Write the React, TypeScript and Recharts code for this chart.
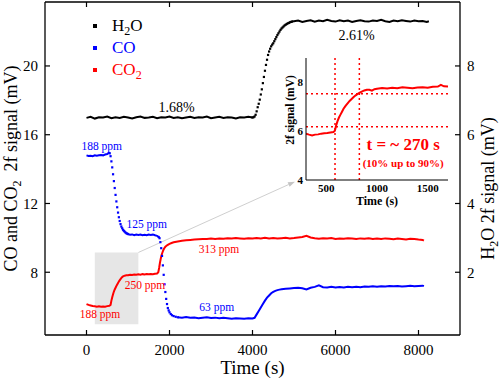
import React from 'react';
import {
  ComposedChart,
  LineChart,
  Line,
  XAxis,
  YAxis,
  ReferenceArea,
  ReferenceLine,
  ReferenceDot,
} from 'recharts';

const FONT = 'Liberation Serif, Tinos, DejaVu Serif, serif';
const BLACK = '#000000';
const BLUE = '#0000ff';
const RED = '#ff0000';

// ---------- main chart axes ----------
const xTicks = [0, 2000, 4000, 6000, 8000];
const leftTicks = [8, 12, 16, 20];
const rightTicks = [2, 4, 6, 8];
const xDomain: [number, number] = [-1000, 9000];
const leftDomain: [number, number] = [4.35, 23.72];
const rightDomain: [number, number] = [0.175, 9.86];

// ---------- H2O (right axis) [time s, mV] ----------
const h2oPoints: [number, number][] = [
  [0, 6.49], [100, 6.52], [200, 6.47], [300, 6.51], [400, 6.5], [500, 6.53], [600, 6.48], [700, 6.51],
  [800, 6.49], [900, 6.52], [1000, 6.5], [1100, 6.47], [1200, 6.51], [1300, 6.53], [1400, 6.49], [1500, 6.5],
  [1600, 6.52], [1700, 6.48], [1800, 6.51], [1900, 6.5], [2000, 6.53], [2100, 6.49], [2200, 6.51], [2300, 6.48],
  [2400, 6.5], [2500, 6.52], [2600, 6.49], [2700, 6.51], [2800, 6.5], [2900, 6.53], [3000, 6.48], [3100, 6.5],
  [3200, 6.52], [3300, 6.49], [3400, 6.51], [3500, 6.5], [3600, 6.47], [3700, 6.51], [3800, 6.5], [3900, 6.52],
  [4000, 6.5], [4025, 6.51], [4050, 6.53], [4075, 6.58], [4100, 6.68], [4125, 6.8], [4150, 6.9], [4175, 7.02],
  [4200, 7.17], [4225, 7.32], [4250, 7.5], [4275, 7.68], [4300, 7.86], [4325, 8.03], [4350, 8.18], [4375, 8.32],
  [4400, 8.42], [4425, 8.5], [4450, 8.57], [4475, 8.62], [4500, 8.66], [4525, 8.72], [4550, 8.78], [4575, 8.84],
  [4600, 8.9], [4625, 8.95], [4650, 9.0], [4675, 9.05], [4700, 9.09], [4725, 9.12], [4750, 9.15], [4775, 9.18],
  [4800, 9.2], [4825, 9.22], [4850, 9.24], [4875, 9.25], [4900, 9.27], [4925, 9.28], [4950, 9.29],
  [5000, 9.3], [5100, 9.32], [5200, 9.28], [5300, 9.31], [5400, 9.33], [5500, 9.29], [5600, 9.32], [5700, 9.3],
  [5800, 9.34], [5900, 9.31], [6000, 9.29], [6100, 9.33], [6200, 9.3], [6300, 9.32], [6400, 9.28], [6500, 9.31],
  [6600, 9.33], [6700, 9.3], [6800, 9.29], [6900, 9.32], [7000, 9.31], [7100, 9.34], [7200, 9.3], [7300, 9.28],
  [7400, 9.32], [7500, 9.3], [7600, 9.33], [7700, 9.31], [7800, 9.29], [7900, 9.32], [8000, 9.3], [8100, 9.31],
  [8200, 9.28], [8250, 9.3],
];
const h2oDotted: [number, number][] = [[4000, 4950]];

// ---------- CO (left axis) ----------
const coPoints: [number, number][] = [
  [0, 14.8], [50, 14.76], [100, 14.78], [150, 14.75], [200, 14.8], [250, 14.78], [300, 14.8], [350, 14.82],
  [400, 14.8], [450, 14.85], [500, 14.88], [540, 14.95], [560, 14.92],
  [580, 14.75], [600, 14.45], [620, 14.1], [640, 13.7], [660, 13.3], [680, 12.9], [700, 12.5], [720, 12.12],
  [740, 11.78], [760, 11.47], [780, 11.2], [800, 10.98], [820, 10.8], [840, 10.66], [860, 10.56], [880, 10.47],
  [900, 10.41], [920, 10.36], [940, 10.31], [960, 10.27], [980, 10.25], [1000, 10.22],
  [1050, 10.18], [1100, 10.2], [1150, 10.15], [1200, 10.19], [1250, 10.17], [1300, 10.2], [1350, 10.16],
  [1400, 10.18], [1450, 10.15], [1500, 10.19], [1550, 10.17], [1600, 10.2], [1650, 10.15], [1700, 10.12], [1740, 10.05],
  [1760, 9.98], [1780, 9.75], [1800, 9.4], [1820, 8.95], [1840, 8.4], [1860, 7.85], [1880, 7.3], [1900, 6.85],
  [1920, 6.45], [1940, 6.15], [1960, 5.92], [1980, 5.78], [2000, 5.67], [2030, 5.57], [2060, 5.5], [2100, 5.45],
  [2150, 5.41], [2200, 5.38],
  [2300, 5.36], [2400, 5.4], [2500, 5.35], [2600, 5.37], [2700, 5.33], [2800, 5.36], [2900, 5.38], [3000, 5.34],
  [3100, 5.36], [3200, 5.32], [3300, 5.35], [3400, 5.33], [3500, 5.3], [3600, 5.33], [3700, 5.31], [3800, 5.29],
  [3900, 5.32], [4000, 5.31], [4050, 5.35], [4100, 5.55], [4150, 5.75], [4200, 5.95], [4250, 6.15], [4300, 6.35],
  [4350, 6.52], [4400, 6.65], [4450, 6.78], [4500, 6.86], [4550, 6.92], [4600, 6.96], [4650, 6.99], [4700, 7.01],
  [4750, 7.03], [4800, 7.04], [4900, 7.06], [5000, 7.08], [5100, 7.1], [5200, 7.07], [5300, 7.0], [5400, 7.1],
  [5500, 7.15], [5600, 7.24], [5700, 7.13], [5800, 7.12], [5900, 7.15], [6000, 7.11], [6100, 7.14], [6200, 7.12],
  [6300, 7.15], [6400, 7.13], [6500, 7.16], [6600, 7.13], [6700, 7.17], [6800, 7.15], [6900, 7.18], [7000, 7.16],
  [7100, 7.19], [7200, 7.17], [7300, 7.2], [7400, 7.18], [7500, 7.2], [7600, 7.17], [7700, 7.19], [7800, 7.21],
  [7900, 7.18], [8000, 7.2], [8100, 7.22], [8130, 7.19],
];
const coDotted: [number, number][] = [[560, 1000], [1740, 2200]];

// ---------- CO2 (left axis) ----------
const co2Points: [number, number][] = [
  [0, 6.15], [50, 6.1], [100, 6.07], [150, 6.04], [200, 6.02], [250, 6.0], [300, 6.02], [350, 5.99], [400, 6.01],
  [450, 6.0], [500, 6.03], [550, 6.05], [580, 6.1], [600, 6.35], [620, 6.55], [640, 6.72], [660, 6.88], [680, 7.0],
  [700, 7.1], [730, 7.25], [760, 7.38], [790, 7.5], [820, 7.6], [850, 7.7], [880, 7.76], [920, 7.8], [960, 7.82],
  [1000, 7.83], [1050, 7.86], [1100, 7.84], [1150, 7.87], [1200, 7.85], [1250, 7.88], [1300, 7.86], [1350, 7.89],
  [1400, 7.87], [1450, 7.9], [1500, 7.88], [1550, 7.9], [1600, 7.89], [1650, 7.91], [1700, 7.93], [1730, 8.0],
  [1750, 8.25], [1770, 8.55], [1790, 8.8], [1810, 9.0], [1830, 9.15], [1850, 9.28], [1870, 9.38], [1900, 9.48],
  [1950, 9.58], [2000, 9.65], [2050, 9.7], [2100, 9.74], [2200, 9.79], [2300, 9.83], [2400, 9.86], [2500, 9.88],
  [2600, 9.9], [2700, 9.92], [2800, 9.94], [2900, 9.93], [3000, 9.96], [3100, 9.94], [3200, 9.97], [3300, 9.95],
  [3400, 9.98], [3500, 9.96], [3600, 9.99], [3700, 9.97], [3800, 9.95], [3900, 9.98], [4000, 9.96], [4100, 9.99],
  [4200, 9.97], [4300, 10.0], [4400, 9.97], [4500, 9.99], [4600, 9.96], [4700, 9.98], [4800, 10.0], [4900, 9.97],
  [5000, 9.99], [5100, 10.02], [5200, 10.05], [5300, 10.12], [5400, 10.02], [5500, 9.98], [5600, 9.95], [5700, 9.98],
  [5800, 9.96], [5900, 9.99], [6000, 9.94], [6100, 9.97], [6200, 9.95], [6300, 9.98], [6400, 9.96], [6500, 9.93],
  [6600, 9.97], [6700, 9.95], [6800, 9.98], [6900, 9.94], [7000, 9.96], [7100, 9.93], [7200, 9.97], [7300, 9.95],
  [7400, 9.92], [7500, 9.96], [7600, 9.94], [7700, 9.91], [7800, 9.95], [7900, 9.93], [8000, 9.9], [8100, 9.88],
  [8130, 9.84],
];
const co2Dotted: [number, number][] = [];

// ---------- annotations (data coordinates, left axis) ----------
const annoText = ['1.68%', '2.61%', '188 ppm', '125 ppm', '63 ppm', '188 ppm', '250 ppm', '313 ppm'];
const annoTime = [2173, 6511, 366, 1450, 3137, 325, 1410, 3193];
const annoValue = [17.63, 21.8, 15.37, 10.81, 5.97, 5.56, 7.27, 9.36];
const annoSeries = ['H2O', 'H2O', 'CO', 'CO', 'CO', 'CO2', 'CO2', 'CO2'];

// zoomed region (gray box) and connector to the inset
const zoomBoxTime: [number, number] = [200, 1250];
const zoomBoxValue: [number, number] = [4.98, 9.15];
const connectorEnd = { t: 5024, v: 13.27 };

// legend
const legendNames = ['H2O', 'CO', 'CO2'];
const seriesColor: Record<string, string> = { H2O: BLACK, CO: BLUE, CO2: RED };

// ---------- inset ----------
const insetTicksX = [500, 1000, 1500];
const insetTicksY = [4, 6, 8];
const insetDomainX: [number, number] = [300, 1700];
const insetDomainY: [number, number] = [4, 9];
const insetPoints: [number, number][] = [
  [300, 5.9], [330, 5.86], [360, 5.83], [390, 5.86], [420, 5.87], [450, 5.9], [480, 5.92], [510, 5.93],
  [540, 5.95], [570, 5.97], [585, 6.02], [595, 6.2], [610, 6.4], [625, 6.56], [640, 6.68], [655, 6.8],
  [670, 6.92], [690, 7.04], [710, 7.14], [730, 7.24], [750, 7.32], [770, 7.4], [790, 7.47], [810, 7.53],
  [830, 7.58], [850, 7.62], [875, 7.67], [900, 7.7], [925, 7.7], [950, 7.66], [975, 7.72], [1000, 7.74],
  [1050, 7.77], [1100, 7.75], [1150, 7.78], [1200, 7.76], [1250, 7.8], [1300, 7.78], [1350, 7.76], [1400, 7.79],
  [1450, 7.8], [1500, 7.78], [1550, 7.82], [1600, 7.83], [1630, 7.9], [1660, 7.84], [1700, 7.83],
];
const insetVLines = [586, 826];
const insetHLines = [6.18, 7.53];
const insetNote1 = { text: 't = ~ 270 s', t: 1258, v: 5.47 };
const insetNote2 = { text: '(10% up to 90%)', t: 1258, v: 4.69 };

function buildRows(points: [number, number][], windows: [number, number][]) {
  return points.map(([t, v]) => {
    const strictlyInside = windows.some(([a, b]) => t > a && t < b);
    const inWindow = windows.some(([a, b]) => t >= a && t <= b);
    return { t, line: strictlyInside ? null : v, dot: inWindow ? v : null };
  });
}

const h2oRows = buildRows(h2oPoints, h2oDotted);
const coRows = buildRows(coPoints, coDotted);
const co2Rows = buildRows(co2Points, co2Dotted);
const insetRows = insetPoints.map(([t, v]) => ({ t, v }));

const squareDot = (color: string) => (p: any) => {
  if (p.cy == null || p.cx == null || isNaN(p.cy)) return <g key={`k${p.index}`} />;
  return <rect key={`k${p.index}`} x={p.cx - 1.1} y={p.cy - 1.1} width={2.2} height={2.2} fill={color} />;
};

const withSub = (name: string, subSize: string | number) => {
  const parts = name.split(/(\d)/).filter((s) => s.length > 0);
  return parts.map((s, i) =>
    /\d/.test(s) ? (
      <sub key={i} style={{ fontSize: subSize, verticalAlign: 'sub', lineHeight: 0 }}>{s}</sub>
    ) : (
      <span key={i}>{s}</span>
    )
  );
};

// ---------- tick renderers (inward tick marks) ----------
const TICK_LEN = 5;
const LeftTick = (p: any) => (
  <g>
    <line x1={p.x} y1={p.y} x2={p.x + TICK_LEN} y2={p.y} stroke="#000" strokeWidth={1.2} />
    <text x={p.x - 7} y={p.y} dy="0.35em" textAnchor="end" fontSize={15} fontFamily={FONT} fill="#000">
      {p.payload.value}
    </text>
  </g>
);
const RightTick = (p: any) => (
  <g>
    <line x1={p.x} y1={p.y} x2={p.x - TICK_LEN} y2={p.y} stroke="#000" strokeWidth={1.2} />
    <text x={p.x + 7} y={p.y} dy="0.35em" textAnchor="start" fontSize={15} fontFamily={FONT} fill="#000">
      {p.payload.value}
    </text>
  </g>
);
const BottomTick = (p: any) => (
  <g>
    <line x1={p.x} y1={p.y} x2={p.x} y2={p.y - TICK_LEN} stroke="#000" strokeWidth={1.2} />
    <text x={p.x} y={p.y + 20} textAnchor="middle" fontSize={15} fontFamily={FONT} fill="#000">
      {p.payload.value}
    </text>
  </g>
);
const TopTick = (p: any) => (
  <g>
    <line x1={p.x} y1={p.y} x2={p.x} y2={p.y + TICK_LEN} stroke="#000" strokeWidth={1.2} />
  </g>
);

const ArrowShape = (p: any) => {
  const { x1, y1, x2, y2 } = p;
  if ([x1, y1, x2, y2].some((v) => v == null || isNaN(v))) return <g />;
  const ang = Math.atan2(y2 - y1, x2 - x1);
  const L = 7;
  const W = 2.5;
  const bx = x2 - L * Math.cos(ang);
  const by = y2 - L * Math.sin(ang);
  const nx = -Math.sin(ang) * W;
  const ny = Math.cos(ang) * W;
  return (
    <g>
      <line x1={x1} y1={y1} x2={bx} y2={by} stroke="#cfcfcf" strokeWidth={1} />
      <polygon points={`${x2},${y2} ${bx + nx},${by + ny} ${bx - nx},${by - ny}`} fill="#c4c4c4" />
    </g>
  );
};

const axisLineStyle = { stroke: '#000', strokeWidth: 1.3 };

function MainChart() {
  return (
    <ComposedChart width={500} height={385} margin={{ top: 1, right: 0, bottom: 0, left: 0 }}>
      <XAxis
        dataKey="t"
        type="number"
        domain={xDomain}
        ticks={xTicks}
        allowDataOverflow
        height={50}
        tickSize={0}
        tickMargin={0}
        tickLine={false}
        axisLine={axisLineStyle}
        tick={BottomTick}
        label={(props: any) => {
          const vb = props.viewBox;
          return (
            <text x={vb.x + vb.width / 2} y={vb.y + 39} textAnchor="middle" fontSize={19} fontFamily={FONT} fill="#000">
              Time (s)
            </text>
          );
        }}
      />
      <XAxis
        xAxisId="top"
        dataKey="t"
        type="number"
        orientation="top"
        domain={xDomain}
        ticks={xTicks}
        allowDataOverflow
        height={1}
        tickSize={0}
        tickMargin={0}
        tickLine={false}
        axisLine={axisLineStyle}
        tick={TopTick}
      />
      <YAxis
        yAxisId="left"
        type="number"
        domain={leftDomain}
        ticks={leftTicks}
        allowDataOverflow
        width={45}
        tickSize={0}
        tickMargin={0}
        tickLine={false}
        axisLine={axisLineStyle}
        tick={LeftTick}
        label={(props: any) => {
          const vb = props.viewBox;
          const cx = vb.x + 17;
          const cy = vb.y + vb.height / 2;
          return (
            <text x={cx} y={cy} transform={`rotate(-90, ${cx}, ${cy})`} textAnchor="middle" fontSize={18} fontFamily={FONT} fill="#000">
              CO and CO<tspan dy={4} fontSize={12}>2</tspan>
              <tspan dy={-4}>{'\u00a0 2f signal (mV)'}</tspan>
            </text>
          );
        }}
      />
      <YAxis
        yAxisId="right"
        orientation="right"
        type="number"
        domain={rightDomain}
        ticks={rightTicks}
        allowDataOverflow
        width={40}
        tickSize={0}
        tickMargin={0}
        tickLine={false}
        axisLine={axisLineStyle}
        tick={RightTick}
        label={(props: any) => {
          const vb = props.viewBox;
          const cx = vb.x + 34;
          const cy = vb.y + vb.height / 2 + 20;
          return (
            <text x={cx} y={cy} transform={`rotate(-90, ${cx}, ${cy})`} textAnchor="middle" fontSize={18} fontFamily={FONT} fill="#000">
              H<tspan dy={4} fontSize={12}>2</tspan>
              <tspan dy={-4}>O 2f signal (mV)</tspan>
            </text>
          );
        }}
      />

      <ReferenceArea
        yAxisId="left"
        x1={zoomBoxTime[0]}
        x2={zoomBoxTime[1]}
        y1={zoomBoxValue[0]}
        y2={zoomBoxValue[1]}
        fill="#e6e6e6"
        fillOpacity={1}
        stroke="none"
      />
      <ReferenceLine
        yAxisId="left"
        ifOverflow="visible"
        segment={[
          { x: zoomBoxTime[1], y: zoomBoxValue[1] },
          { x: connectorEnd.t, y: connectorEnd.v },
        ]}
        shape={ArrowShape}
      />

      <Line yAxisId="right" data={h2oRows} dataKey="line" name="H2O" stroke={BLACK} strokeWidth={2} dot={false} activeDot={false} isAnimationActive={false} />
      <Line yAxisId="right" data={h2oRows} dataKey="dot" stroke="none" dot={squareDot(BLACK)} activeDot={false} legendType="none" isAnimationActive={false} />
      <Line yAxisId="left" data={coRows} dataKey="line" name="CO" stroke={BLUE} strokeWidth={2} dot={false} activeDot={false} isAnimationActive={false} />
      <Line yAxisId="left" data={coRows} dataKey="dot" stroke="none" dot={squareDot(BLUE)} activeDot={false} legendType="none" isAnimationActive={false} />
      <Line yAxisId="left" data={co2Rows} dataKey="line" name="CO2" stroke={RED} strokeWidth={2} dot={false} activeDot={false} isAnimationActive={false} />
      <Line yAxisId="left" data={co2Rows} dataKey="dot" stroke="none" dot={squareDot(RED)} activeDot={false} legendType="none" isAnimationActive={false} />

      {annoText.map((txt, i) => (
        <ReferenceDot
          key={`a${i}`}
          yAxisId="left"
          x={annoTime[i]}
          y={annoValue[i]}
          r={0}
          stroke="none"
          fill="none"
          ifOverflow="visible"
          label={{
            value: txt,
            position: 'center',
            fill: seriesColor[annoSeries[i]],
            fontSize: txt.includes('%') ? 14 : 11.5,
            fontFamily: FONT,
          }}
        />
      ))}
    </ComposedChart>
  );
}

function InsetChart() {
  const boldTick = { fontSize: 11, fontWeight: 'bold', fill: '#000', fontFamily: FONT };
  return (
    <LineChart width={168} height={165} data={insetRows} margin={{ top: 8, right: 0, bottom: 0, left: 0 }}>
      <XAxis
        dataKey="t"
        type="number"
        domain={insetDomainX}
        ticks={insetTicksX}
        allowDataOverflow
        height={35}
        tickSize={0}
        tickMargin={4}
        tickLine={false}
        axisLine={{ stroke: '#000', strokeWidth: 1 }}
        tick={boldTick}
        label={(props: any) => {
          const vb = props.viewBox;
          return (
            <text x={vb.x + vb.width / 2} y={vb.y + 25} textAnchor="middle" fontSize={12} fontWeight="bold" fontFamily={FONT} fill="#000">
              Time (s)
            </text>
          );
        }}
      />
      <XAxis xAxisId="top" orientation="top" type="number" dataKey="t" domain={insetDomainX} height={0} tick={false} tickLine={false} axisLine={{ stroke: '#000', strokeWidth: 1 }} />
      <YAxis
        type="number"
        domain={insetDomainY}
        ticks={insetTicksY}
        allowDataOverflow
        width={26}
        tickSize={0}
        tickMargin={3}
        tickLine={false}
        axisLine={{ stroke: '#000', strokeWidth: 1 }}
        tick={boldTick}
        label={(props: any) => {
          const vb = props.viewBox;
          const cx = vb.x + 14;
          const cy = vb.y + 52;
          return (
            <text x={cx} y={cy} transform={`rotate(-90, ${cx}, ${cy})`} textAnchor="middle" fontSize={11.5} fontWeight="bold" fontFamily={FONT} fill="#000">
              2f signal (mV)
            </text>
          );
        }}
      />
      <YAxis yAxisId="r" orientation="right" type="number" domain={insetDomainY} width={0} tick={false} tickLine={false} axisLine={{ stroke: '#000', strokeWidth: 1 }} />

      {insetVLines.map((x) => (
        <ReferenceLine key={`v${x}`} x={x} stroke={RED} strokeWidth={1.5} strokeDasharray="2 3" />
      ))}
      {insetHLines.map((y) => (
        <ReferenceLine key={`h${y}`} y={y} stroke={RED} strokeWidth={1.5} strokeDasharray="2 3" />
      ))}

      <Line dataKey="v" stroke={RED} strokeWidth={2} dot={false} activeDot={false} isAnimationActive={false} />

      <ReferenceDot
        x={insetNote1.t}
        y={insetNote1.v}
        r={0}
        stroke="none"
        fill="none"
        label={{ value: insetNote1.text, position: 'center', fill: RED, fontSize: 17, fontWeight: 'bold', fontFamily: FONT }}
      />
      <ReferenceDot
        x={insetNote2.t}
        y={insetNote2.v}
        r={0}
        stroke="none"
        fill="none"
        label={{ value: insetNote2.text, position: 'center', fill: RED, fontSize: 11, fontWeight: 'bold', fontFamily: FONT }}
      />
    </LineChart>
  );
}

function LegendBox() {
  return (
    <div style={{ position: 'absolute', left: 88, top: 15, fontFamily: FONT, fontSize: 17 }}>
      {legendNames.map((n) => (
        <div key={n} style={{ height: 22, display: 'flex', alignItems: 'center' }}>
          <div style={{ width: 4, height: 4, marginLeft: 5, background: seriesColor[n] }} />
          <div style={{ marginLeft: 15, color: seriesColor[n], lineHeight: '22px' }}>{withSub(n, 12)}</div>
        </div>
      ))}
    </div>
  );
}

export default function App() {
  return (
    <div style={{ position: 'absolute', left: 0, top: 0, width: 500, height: 385, background: '#fff' }}>
      <MainChart />
      <div style={{ position: 'absolute', left: 280, top: 50 }}>
        <InsetChart />
      </div>
      <LegendBox />
    </div>
  );
}
